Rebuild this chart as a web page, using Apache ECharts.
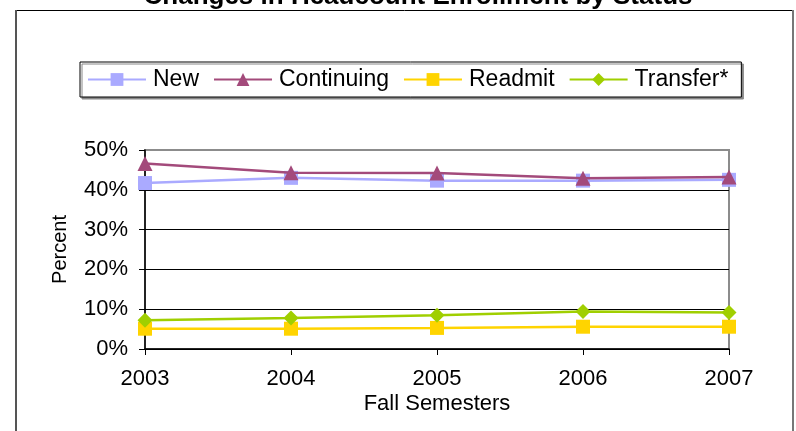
<!DOCTYPE html>
<html>
<head>
<meta charset="utf-8">
<script src="https://cdn.jsdelivr.net/npm/echarts@6/dist/echarts.min.js"></script>
<style>
html,body{margin:0;padding:0;background:#fff;}
#chart{width:796px;height:431px;}
</style>
</head>
<body>
<div id="chart"></div>
<script>
var titleText = 'Changes in Headcount Enrollment by Status';
var years = ['2003', '2004', '2005', '2006', '2007'];
var seriesNames = ['New', 'Continuing', 'Readmit', 'Transfer*'];
var newPct = [41.7, 43.0, 42.3, 42.3, 42.5];
var continuingPct = [46.6, 44.3, 44.2, 42.9, 43.2];
var readmitPct = [5.1, 5.1, 5.3, 5.6, 5.6];
var transferPct = [7.2, 7.8, 8.5, 9.4, 9.2];
var yTicks = [0, 10, 20, 30, 40, 50];
var xAxisTitle = 'Fall Semesters';
var yAxisTitle = 'Percent';

var FONT = 'Arial, "Liberation Sans", sans-serif';
var colors = ['#aaaaff', '#a34a7b', '#ffd400', '#a0cf00'];
var symbols = ['rect', 'triangle', 'rect', 'diamond'];
var symbolSizes = [14, 15, 14, 15];
var values = [newPct, continuingPct, readmitPct, transferPct];

var chart = echarts.init(document.getElementById('chart'), null, {renderer: 'canvas'});

var series = seriesNames.map(function (name, i) {
  return {
    name: name,
    type: 'line',
    data: values[i],
    symbol: symbols[i],
    symbolSize: symbolSizes[i],
    showAllSymbol: true,
    clip: false,
    lineStyle: {color: colors[i], width: 2.5},
    itemStyle: {color: colors[i]},
    z: 3 + (i === 1 ? 1 : 0),
    animation: false
  };
});

chart.setOption({
  animation: false,
  color: colors,
  graphic: [
    {type: 'line', shape: {x1: 15, y1: 10.5, x2: 794, y2: 10.5}, style: {stroke: '#000', lineWidth: 1}, z: 0},
    {type: 'line', shape: {x1: 16, y1: 10, x2: 16, y2: 431}, style: {stroke: '#555', lineWidth: 2}, z: 0},
    {type: 'line', shape: {x1: 793, y1: 10, x2: 793, y2: 431}, style: {stroke: '#777', lineWidth: 2}, z: 0},
    {type: 'text', x: 418, y: -3, style: {text: titleText, font: 'bold 26px ' + FONT, fill: '#000', align: 'center', verticalAlign: 'middle'}, z: 5}
  ],
  legend: {
    left: 80,
    top: 62,
    orient: 'horizontal',
    data: seriesNames,
    itemWidth: 58,
    itemHeight: 16,
    itemGap: 14,
    padding: [6, 13, 6, 7],
    borderColor: '#000',
    borderWidth: 1,
    backgroundColor: '#fff',
    shadowColor: '#888',
    shadowOffsetX: 2,
    shadowOffsetY: 2,
    shadowBlur: 0,
    textStyle: {fontSize: 23, fontFamily: FONT, color: '#000', padding: [0, 0, 0, 2]}
  },
  grid: {
    left: 145, right: 67, top: 150, bottom: 82,
    show: true, borderColor: '#8c8c8c', borderWidth: 2, backgroundColor: 'transparent'
  },
  xAxis: {
    type: 'category',
    data: years,
    boundaryGap: false,
    name: xAxisTitle,
    nameLocation: 'middle',
    nameGap: 44,
    nameTextStyle: {fontSize: 22, fontFamily: FONT, color: '#000'},
    axisLine: {lineStyle: {color: '#000', width: 1.5}},
    axisTick: {show: true, length: 6, lineStyle: {color: '#000'}, alignWithLabel: true},
    axisLabel: {fontSize: 22, fontFamily: FONT, color: '#000', margin: 19},
    splitLine: {show: false}
  },
  yAxis: {
    type: 'value',
    min: 0, max: 50, interval: 10,
    name: yAxisTitle,
    nameLocation: 'middle',
    nameGap: 75,
    nameRotate: 90,
    nameTextStyle: {fontSize: 20, fontFamily: FONT, color: '#000'},
    axisLine: {show: true, lineStyle: {color: '#000', width: 1.5}},
    axisTick: {show: true, length: 6, lineStyle: {color: '#000'}},
    axisLabel: {fontSize: 22, fontFamily: FONT, color: '#000', margin: 17, formatter: '{value}%'},
    splitLine: {show: true, showMaxLine: false, lineStyle: {color: '#000', width: 1}}
  },
  series: series
});
</script>
</body>
</html>
